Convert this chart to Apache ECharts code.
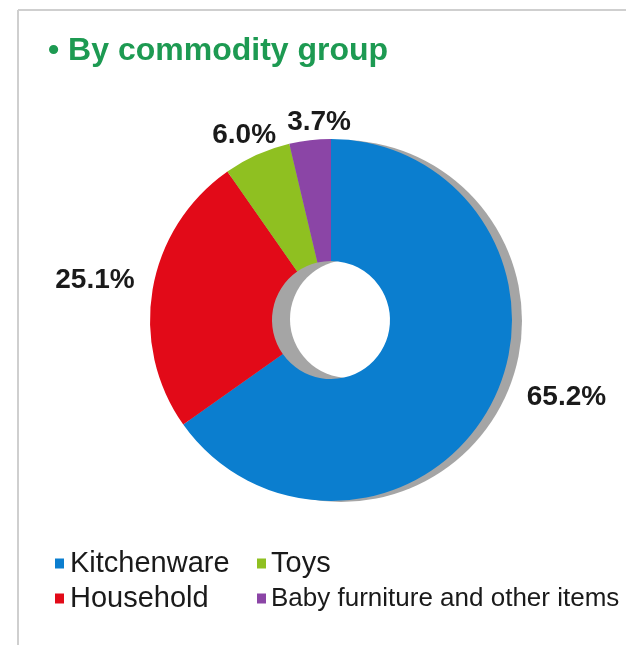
<!DOCTYPE html>
<html>
<head>
<meta charset="utf-8">
<style>
  html, body { margin: 0; padding: 0; background: #ffffff; }
  #chart { width: 626px; height: 645px; }
</style>
<script src="https://cdn.jsdelivr.net/npm/echarts@6/dist/echarts.min.js"></script>
</head>
<body>
<div id="chart"></div>
<script>
// Sales share by commodity group (percent)
const categories = ['Kitchenware', 'Household', 'Toys', 'Baby furniture and other items'];
const shares = [65.2, 25.1, 6.0, 3.7];
const sliceColors = ['#0b7ecf', '#e20a18', '#8fc021', '#8b45a6'];
const legendLeftColumn = ['Kitchenware', 'Household'];
const legendRightColumn = ['Toys', 'Baby furniture and other items'];

// small nudges that place each percentage label beside its slice
const labelNudge = [[16, -6], [1, -9], [38, -20], [60, -18]];

const FONT = 'Liberation Sans, Arial, Helvetica, sans-serif';
const chart = echarts.init(document.getElementById('chart'), null, { renderer: 'canvas' });

const pieData = categories.map((name, i) => ({
  name: name,
  value: shares[i],
  itemStyle: { color: sliceColors[i] }
}));

const legendBase = {
  orient: 'vertical',
  top: 547,
  padding: 0,
  itemGap: 2,
  itemWidth: 9,
  itemHeight: 10,
  icon: 'rect',
  selectedMode: false
};

chart.setOption({
  animation: false,
  backgroundColor: '#ffffff',
  title: {
    text: '\u2022 By commodity group',
    left: 48,
    top: 35,
    padding: 0,
    textStyle: { fontFamily: FONT, fontSize: 32, fontWeight: 'bold', color: '#1d9a52' }
  },
  graphic: [
    { type: 'line', shape: { x1: 18, y1: 10, x2: 626, y2: 10 }, style: { stroke: '#cfcfcf', lineWidth: 2 } },
    { type: 'line', shape: { x1: 18, y1: 10, x2: 18, y2: 645 }, style: { stroke: '#cfcfcf', lineWidth: 2 } }
  ],
  legend: [
    Object.assign({}, legendBase, {
      data: legendLeftColumn,
      left: 55,
      textStyle: { fontFamily: FONT, fontSize: 29, lineHeight: 33, color: '#1a1a1a', padding: [0, 0, 0, 1] }
    }),
    Object.assign({}, legendBase, {
      data: [
        { name: legendRightColumn[0] },
        { name: legendRightColumn[1], textStyle: { fontSize: 26, lineHeight: 33 } }
      ],
      left: 257,
      textStyle: { fontFamily: FONT, fontSize: 29, lineHeight: 33, color: '#1a1a1a', padding: [0, 0, 0, 0] }
    })
  ],
  series: [
    {
      // grey disc behind the donut, offset to read as its drop shadow
      type: 'pie',
      silent: true,
      z: 1,
      center: [341, 321],
      radius: [0, 181],
      label: { show: false },
      labelLine: { show: false },
      data: [{ name: '', value: 100, itemStyle: { color: '#a5a5a5' } }]
    },
    {
      // white disc that lights the hole, leaving a grey crescent on its left
      type: 'pie',
      silent: true,
      z: 1,
      center: [349, 319],
      radius: [0, 59],
      label: { show: false },
      labelLine: { show: false },
      data: [{ name: '', value: 100, itemStyle: { color: '#ffffff' } }]
    },
    {
      type: 'pie',
      z: 2,
      center: [331, 320],
      radius: [59, 181],
      startAngle: 90,
      clockwise: true,
      avoidLabelOverlap: false,
      itemStyle: { borderWidth: 0 },
      label: {
        show: true,
        position: 'outside',
        distanceToLabelLine: 5,
        fontFamily: FONT,
        fontSize: 28,
        fontWeight: 'bold',
        color: '#1a1a1a',
        formatter: p => p.value.toFixed(1) + '%'
      },
      labelLine: { show: false, length: 0, length2: 14 },
      labelLayout: p => ({ dx: labelNudge[p.dataIndex][0], dy: labelNudge[p.dataIndex][1] }),
      data: pieData
    }
  ]
});
</script>
</body>
</html>
